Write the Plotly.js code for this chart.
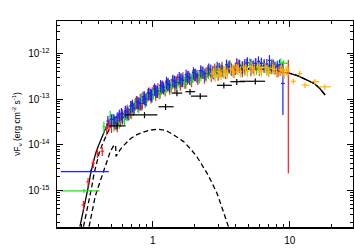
<!DOCTYPE html>
<html><head><meta charset="utf-8">
<script src="https://cdn.plot.ly/plotly-3.0.1.min.js"></script>
<style>html,body{margin:0;padding:0;background:#fff}#chart{width:354px;height:249px}</style>
</head><body><div id="chart"></div>
<script>
// ---- data (keV, erg cm^-2 s^-1) ----
const redLowX = [0.312, 0.337, 0.368, 0.394, 0.428];
const redLowY = [4.9e-16, 1.56e-15, 4.0e-15, 6.6e-15, 7.3e-15];

const redX = [0.46,0.48,0.50,0.52,0.54,0.56,0.58,0.60,0.62,0.65,0.67,0.70,0.72,0.75,0.78,0.81,0.84,0.87,0.90,0.94,0.97,1.01,1.05,1.09,1.13,1.18,1.23,1.28,1.33,1.39,1.45,1.52,1.59,1.66,1.74,1.83,1.92,2.02,2.13,2.25,2.38,2.52,2.67,2.83,3.00,3.2,3.4,3.65,3.9,4.2,4.5,4.85,5.2,5.6,6.0,6.5,7.0,7.6,8.2,8.8,
  0.49,0.55,0.63,0.69,0.76,0.83,0.92,0.99,1.07,1.15,1.25,1.36,1.48,1.62,1.78,1.96,2.18,2.45,2.75,3.1,3.5,4.0,4.65,5.4,6.2,7.3,8.5];
const redY = [2.3e-14,2.9e-14,2.6e-14,3.4e-14,3.0e-14,3.9e-14,3.5e-14,4.6e-14,4.2e-14,5.8e-14,5.0e-14,6.9e-14,6.1e-14,8.2e-14,7.4e-14,1.0e-13,8.6e-14,1.15e-13,1.02e-13,1.38e-13,1.15e-13,1.55e-13,1.32e-13,1.7e-13,1.45e-13,1.95e-13,1.62e-13,2.15e-13,1.78e-13,2.4e-13,1.95e-13,2.7e-13,2.2e-13,2.95e-13,2.4e-13,3.2e-13,2.6e-13,3.5e-13,2.9e-13,3.9e-13,3.1e-13,4.2e-13,3.4e-13,4.6e-13,3.6e-13,5.0e-13,3.9e-13,5.4e-13,4.1e-13,5.6e-13,4.3e-13,5.9e-13,4.5e-13,6.0e-13,4.6e-13,5.8e-13,4.4e-13,5.6e-13,4.3e-13,4.9e-13,
  3.3e-14,2.7e-14,5.0e-14,5.4e-14,9.0e-14,8.0e-14,1.25e-13,1.4e-13,1.5e-13,1.75e-13,2.0e-13,2.1e-13,2.5e-13,2.6e-13,2.9e-13,3.3e-13,3.3e-13,3.8e-13,4.1e-13,4.4e-13,4.6e-13,4.8e-13,5.2e-13,5.3e-13,5.2e-13,5.0e-13,4.6e-13];

const greenX = [0.44,0.49,0.52,0.55,0.59,0.62,0.66,0.70,0.74,0.79,0.83,0.88,0.92,0.99,1.04,1.11,1.16,1.24,1.30,1.37,1.43,1.5,1.62,1.7,1.8,1.9,2.05,2.18,2.32,2.45,2.62,2.8,3.05,3.3,3.55,3.85,4.3,4.7,5.1,5.7,6.2,6.8,7.4,8.0,
  0.51,0.57,0.64,0.72,0.81,0.90,1.01,1.13,1.27,1.40,1.56,1.75,1.95,2.25,2.55,2.9,3.2,3.7,4.1,4.5,4.9,5.4,6.0,6.5,7.1,7.7,8.6];
const greenY = [2.5e-14,4.3e-14,2.8e-14,3.6e-14,4.4e-14,3.8e-14,5.6e-14,5.2e-14,7.8e-14,7.0e-14,1.05e-13,9.0e-14,1.25e-13,1.2e-13,1.6e-13,1.4e-13,1.85e-13,1.7e-13,2.25e-13,1.9e-13,2.55e-13,2.15e-13,2.8e-13,2.4e-13,3.15e-13,2.8e-13,3.6e-13,3.1e-13,4.0e-13,3.4e-13,4.4e-13,3.7e-13,4.8e-13,4.0e-13,5.3e-13,4.4e-13,5.7e-13,4.6e-13,6.0e-13,4.8e-13,6.2e-13,4.7e-13,5.9e-13,4.6e-13,
  3.7e-14,3.2e-14,4.7e-14,6.6e-14,8.4e-14,1.08e-13,1.42e-13,1.6e-13,2.0e-13,2.3e-13,2.5e-13,2.8e-13,3.2e-13,3.5e-13,3.9e-13,4.2e-13,4.6e-13,4.9e-13,5.0e-13,5.2e-13,5.4e-13,5.5e-13,5.4e-13,5.3e-13,5.2e-13,5.0e-13,6.0e-13];

const blueX = [0.47,0.50,0.53,0.55,0.57,0.60,0.63,0.66,0.69,0.73,0.77,0.81,0.85,0.89,0.93,0.98,1.03,1.08,1.14,1.2,1.26,1.32,1.4,1.48,1.56,1.65,1.75,1.86,1.98,2.1,2.24,2.4,2.56,2.75,2.95,3.2,3.45,3.75,4.1,4.5,4.9,5.4,5.9,6.5,7.1,7.8,8.4,
  0.52,0.59,0.65,0.71,0.79,0.87,0.96,1.05,1.17,1.29,1.44,1.6,1.8,2.04,2.32,2.65,3.05,3.6,4.3,4.7,5.2,5.65,6.2,6.8,7.4,8.1];
const blueY = [3.3e-14,3.6e-14,3.1e-14,3.9e-14,4.5e-14,4.0e-14,5.5e-14,4.8e-14,7.0e-14,6.3e-14,8.8e-14,8.0e-14,1.12e-13,1.0e-13,1.35e-13,1.25e-13,1.68e-13,1.5e-13,2.0e-13,1.8e-13,2.35e-13,2.0e-13,2.6e-13,2.3e-13,3.0e-13,2.6e-13,3.4e-13,2.9e-13,3.8e-13,3.3e-13,4.2e-13,3.6e-13,4.6e-13,3.9e-13,5.0e-13,4.3e-13,5.6e-13,4.6e-13,6.0e-13,5.0e-13,6.3e-13,5.2e-13,6.6e-13,5.4e-13,7.0e-13,5.0e-13,5.6e-13,
  3.6e-14,4.9e-14,5.2e-14,7.4e-14,8.4e-14,1.05e-13,1.3e-13,1.55e-13,1.9e-13,2.15e-13,2.45e-13,2.8e-13,3.1e-13,3.5e-13,3.9e-13,4.3e-13,4.7e-13,5.1e-13,5.4e-13,5.8e-13,5.8e-13,6.0e-13,6.0e-13,5.8e-13,5.5e-13,5.3e-13];

const orangeX = [2.7,2.85,3.0,3.15,3.3,3.5,3.7,3.9,4.1,4.35,4.6,4.9,5.2,5.5,5.85,6.2,6.6,7.0,7.5,8.0,8.5,9.1,9.7,
  2.78,3.08,3.4,3.8,4.2,4.75,5.35,6.0,6.8,7.7,8.8,9.4];
const orangeY = [3.6e-13,3.2e-13,4.0e-13,3.5e-13,4.3e-13,3.7e-13,4.6e-13,3.9e-13,4.8e-13,4.0e-13,5.0e-13,4.1e-13,5.1e-13,4.2e-13,5.0e-13,4.1e-13,4.9e-13,4.0e-13,4.7e-13,3.9e-13,4.4e-13,3.7e-13,4.2e-13,
  3.9e-13,3.8e-13,4.1e-13,4.3e-13,4.5e-13,4.6e-13,4.7e-13,4.6e-13,4.5e-13,4.4e-13,4.1e-13,4.3e-13];

const orangeHiX = [10.6, 11.8, 12.9, 15.2, 18.0];
const orangeHiY = [2.45e-13, 3.6e-13, 2.02e-13, 2.4e-13, 1.85e-13];
const orangeHiXlo = [0.4, 0.4, 0.7, 0.9, 1.8];
const orangeHiXhi = [0.45, 0.45, 1.0, 1.2, 1.9];

const blackX = [0.55, 0.87, 1.24, 1.50, 1.87, 2.22, 3.3, 4.1, 5.6];
const blackY = [2.6e-14, 4.5e-14, 6.8e-14, 1.35e-13, 1.45e-13, 1.16e-13, 2.0e-13, 2.4e-13, 2.45e-13];
const blackXlo = [0.072, 0.25, 0.14, 0.12, 0.14, 0.32, 0.36, 0.42, 1.3];
const blackXhi = [0.083, 0.21, 0.18, 0.14, 0.17, 0.28, 0.48, 0.6, 1.0];

// low-energy wide bins
const blueBinX = [0.352], blueBinY = [2.6e-15], blueBinXlo = [0.139], blueBinXhi = [0.126];
const greenBinX = [0.315], greenBinY = [9.9e-16], greenBinXlo = [0.102], greenBinXhi = [0.095];

// high-energy bins with large errors
const redEdgeX = [9.75], redEdgeY = [3.9e-13], redEdgeYlo = [3.876e-13], redEdgeYhi = [3.3e-13];
const blueEdgeX = [8.9], blueEdgeY = [2.2e-13], blueEdgeYlo = [1.75e-13], blueEdgeYhi = [4.3e-13];
const greenEdgeX = [9.0], greenEdgeY = [6.05e-13], greenEdgeYlo = [0.9e-13], greenEdgeYhi = [1.0e-13];

// model curves
const totX = [0.294,0.31,0.324,0.34,0.352,0.37,0.383,0.40,0.416,0.435,0.453,0.47,0.492,0.53,0.6,0.7,0.85,1.0,1.3,1.7,2.2,3.0,4.0,5.0,6.0,7.2,8.5,10,11.5,13.3,15,16.5,18.1];
const totY = [1.64e-16,3.3e-16,6.3e-16,1.3e-15,2.4e-15,4.5e-15,6.6e-15,9.3e-15,1.28e-14,1.74e-14,2.3e-14,2.8e-14,3.5e-14,4.0e-14,4.6e-14,6.2e-14,9.5e-14,1.3e-13,1.9e-13,2.6e-13,3.3e-13,4.0e-13,4.5e-13,4.65e-13,4.6e-13,4.35e-13,4.0e-13,3.66e-13,3.2e-13,2.65e-13,2.2e-13,1.72e-13,1.23e-13];

const plX = [0.312,0.329,0.343,0.36,0.373,0.392,0.406,0.424,0.441,0.461,0.48,0.50,0.52,0.56,0.64,0.75,0.9,1.05,1.3,1.7,2.2,3.0,4.0,5.0,6.0,7.2,8.5,10,11.5,13.3,15,16.5,18.1];
const plY = [1.64e-16,3.3e-16,6.3e-16,1.3e-15,2.4e-15,4.3e-15,6.6e-15,9.5e-15,1.28e-14,1.75e-14,2.2e-14,2.65e-14,3.1e-14,3.5e-14,4.2e-14,6.0e-14,9.0e-14,1.18e-13,1.7e-13,2.45e-13,3.25e-13,4.0e-13,4.5e-13,4.65e-13,4.6e-13,4.35e-13,4.0e-13,3.66e-13,3.2e-13,2.65e-13,2.2e-13,1.72e-13,1.23e-13];

const bbX = [0.343,0.36,0.38,0.40,0.428,0.46,0.49,0.515,0.535,0.54,0.58,0.63,0.69,0.76,0.84,0.95,1.1,1.25,1.4,1.68,1.9,2.1,2.3,2.49,2.7,2.94,3.15,3.38,3.6];
const bbY = [1.64e-16,3.5e-16,7.5e-16,1.2e-15,2.2e-15,4.2e-15,7.2e-15,9.3e-15,1.0e-14,5.6e-15,8.0e-15,1.05e-14,1.38e-14,1.65e-14,1.88e-14,2.1e-14,2.2e-14,2.05e-14,1.7e-14,1.18e-14,8.0e-15,5.5e-15,3.6e-15,2.4e-15,1.5e-15,8.8e-16,4.9e-16,2.7e-16,1.5e-16];

// axis ticks
const xTickVals = [1, 10];
const xTickText = ['1', '10'];
const xMinorVals = [0.2,0.3,0.4,0.5,0.6,0.7,0.8,0.9,2,3,4,5,6,7,8,9,20];
const yTickVals = [1e-15, 1e-14, 1e-13, 1e-12];
const yTickText = ['10<sup>-15</sup>', '10<sup>-14</sup>', '10<sup>-13</sup>', '10<sup>-12</sup>'];
const yMinorVals = [];
[-16,-15,-14,-13,-12].forEach(function(e){ [2,3,4,5,6,7,8,9].forEach(function(m){ yMinorVals.push(m*Math.pow(10,e)); }); });

// ---- traces ----
const RED = '#ff1a1a', GREEN = '#19e619', BLUE = '#2020ff', ORANGE = '#ffb400', BLACK = '#000000';
const TH = 1.2;

function pctTrace(x, y, color, ey, ex) {
  return {x: x, y: y, type: 'scatter', mode: 'markers',
    marker: {size: 1, color: color, opacity: 0}, hoverinfo: 'skip', showlegend: false,
    error_y: {type: 'percent', value: ey, color: color, thickness: TH, width: 0},
    error_x: {type: 'percent', value: ex, color: color, thickness: TH, width: 0}};
}
function arrTrace(x, y, color, opt) {
  const t = {x: x, y: y, type: 'scatter', mode: 'markers',
    marker: {size: 1, color: color, opacity: 0}, hoverinfo: 'skip', showlegend: false};
  if (opt.xlo) t.error_x = {type: 'data', symmetric: false, array: opt.xhi, arrayminus: opt.xlo, color: color, thickness: TH, width: 0};
  else t.error_x = {type: 'percent', value: opt.ex || 3, color: color, thickness: TH, width: 0};
  if (opt.ylo) t.error_y = {type: 'data', symmetric: false, array: opt.yhi, arrayminus: opt.ylo, color: color, thickness: TH, width: 0};
  else t.error_y = {type: 'percent', value: opt.ey || 15, color: color, thickness: TH, width: 0};
  return t;
}
function line(x, y, dash) {
  return {x: x, y: y, type: 'scatter', mode: 'lines', line: {color: '#000', width: 1.3, dash: dash},
    hoverinfo: 'skip', showlegend: false};
}

const data = [
  line(bbX, bbY, '5px,3px'),
  line(plX, plY, '5px,3px'),
  line(totX, totY, 'solid'),
  pctTrace(redLowX, redLowY, RED, 22, 3),
  pctTrace(redX, redY, RED, 30, 2.5),
  pctTrace(greenX, greenY, GREEN, 30, 2.5),
  pctTrace(blueX, blueY, BLUE, 30, 2.5),
  arrTrace(blueBinX, blueBinY, BLUE, {xlo: blueBinXlo, xhi: blueBinXhi, ey: 10}),
  arrTrace(greenBinX, greenBinY, GREEN, {xlo: greenBinXlo, xhi: greenBinXhi, ey: 10}),
  arrTrace(redEdgeX, redEdgeY, RED, {ylo: redEdgeYlo, yhi: redEdgeYhi, ex: 1.5}),
  arrTrace(blueEdgeX, blueEdgeY, BLUE, {ylo: blueEdgeYlo, yhi: blueEdgeYhi, ex: 3}),
  arrTrace(greenEdgeX, greenEdgeY, GREEN, {ylo: greenEdgeYlo, yhi: greenEdgeYhi, ex: 8}),
  pctTrace(orangeX, orangeY, ORANGE, 25, 3),
  arrTrace(orangeHiX, orangeHiY, ORANGE, {xlo: orangeHiXlo, xhi: orangeHiXhi, ey: 14}),
  arrTrace(blackX, blackY, BLACK, {xlo: blackXlo, xhi: blackXhi, ey: 15})
];

const axisCommon = {
  type: 'log', showline: true, linecolor: '#000', linewidth: 1.5, mirror: 'allticks',
  ticks: 'inside', ticklen: 6, tickwidth: 1, tickcolor: '#000', showgrid: false, zeroline: false,
  tickfont: {family: 'Liberation Sans, Arial, sans-serif', size: 10, color: '#000'}
};

const layout = {
  width: 354, height: 249,
  margin: {l: 57, r: 1, t: 21, b: 22},
  paper_bgcolor: '#fff', plot_bgcolor: '#fff',
  showlegend: false,
  xaxis: Object.assign({}, axisCommon, {
    range: [Math.log10(0.2), 1.461],
    tickmode: 'array', tickvals: xTickVals, ticktext: xTickText,
    ticklabelstandoff: 3,
    minor: {tickmode: 'array', tickvals: xMinorVals, ticks: 'inside', ticklen: 3, tickwidth: 1, tickcolor: '#000'}
  }),
  yaxis: Object.assign({}, axisCommon, {
    range: [-15.793, -11.295],
    tickmode: 'array', tickvals: yTickVals, ticktext: yTickText,
    ticklabelstandoff: 4,
    minor: {tickmode: 'array', tickvals: yMinorVals, ticks: 'inside', ticklen: 3, tickwidth: 1, tickcolor: '#000'},
    title: {text: 'νF<sub>ν</sub> (erg cm<sup>-2</sup> s<sup>-1</sup>)', standoff: 6,
      font: {family: 'Liberation Sans, Arial, sans-serif', size: 8.5, color: '#000'}}
  })
};

Plotly.newPlot('chart', data, layout, {staticPlot: true, displayModeBar: false});
</script>
</body></html>
